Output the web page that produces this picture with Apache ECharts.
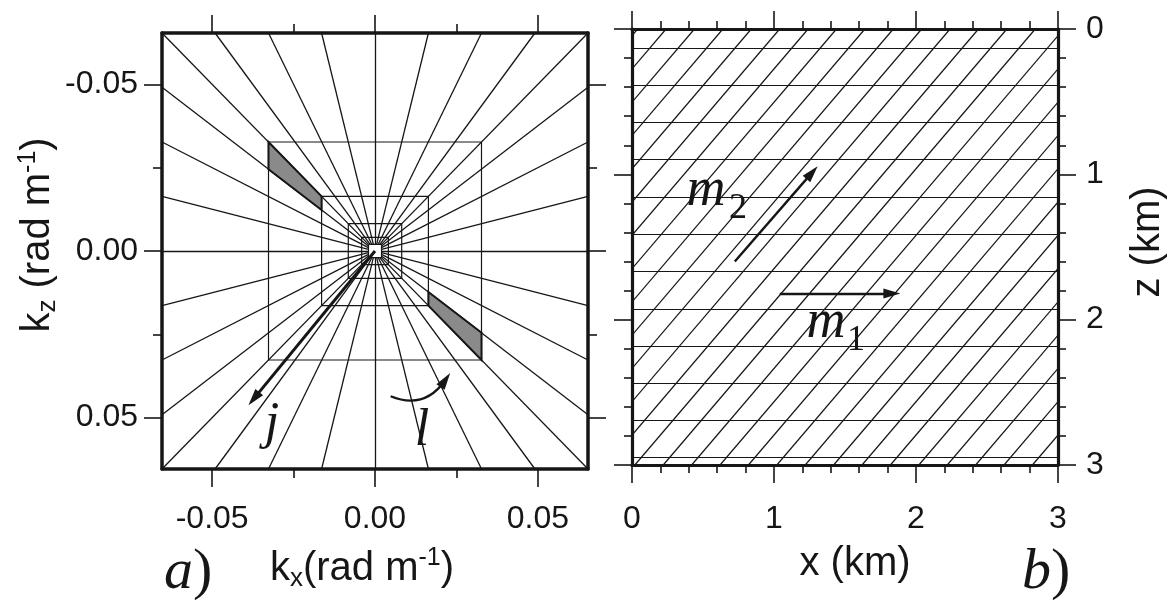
<!DOCTYPE html>
<html><head><meta charset="utf-8">
<script src="https://cdn.jsdelivr.net/npm/echarts@6/dist/echarts.min.js"></script>
<style>html,body{margin:0;padding:0;background:#fff}#c{width:1172px;height:603px}</style>
</head><body><div id="c"></div>
<script>
// ---------- Panel a: wavenumber domain ----------
const kMax = 0.0654;
const kTicksMajor = [-0.05, 0, 0.05];
const kTicksMinor = [-0.025, 0.025];
const rayEdgeValues = [-0.0654, -0.0491, -0.0327, -0.0164, 0, 0.0164, 0.0327, 0.0491, 0.0654];
const squareHalfSizes = [0.0327, 0.0164, 0.0082, 0.0041, 0.002];
const shadedPatches = [
  [[-0.0327, -0.0327], [-0.0164, -0.0164], [-0.0164, -0.0123], [-0.0327, -0.0245]],
  [[0.0164, 0.0123], [0.0327, 0.0245], [0.0327, 0.0327], [0.0164, 0.0164]]
];
const arrowJ = [[0, 0], [-0.0372, 0.0443]];
const arrowL = [[0.0048, 0.0436], [0.0216, 0.0387]];

// ---------- Panel b: space domain ----------
const xKmTicks = [0, 1, 2, 3];
const zKmTicks = [0, 1, 2, 3];
const horizontalLinesZ = [0.13, 0.386, 0.643, 0.899, 1.156, 1.412, 1.668, 1.925, 2.181, 2.438, 2.694, 2.95];
const diagonalTopX = [0.04, 0.24, 0.44, 0.64, 0.84, 1.04, 1.24, 1.44, 1.64, 1.84, 2.04, 2.24, 2.44, 2.64,
  2.84, 3.04, 3.24, 3.44, 3.64, 3.84, 4.04, 4.24, 4.44, 4.64, 4.84, 5.04, 5.24, 5.44];
const diagonalBottomX = [-2.58, -2.38, -2.18, -1.98, -1.78, -1.58, -1.38, -1.18, -0.98, -0.78, -0.58, -0.38, -0.18, 0.02,
  0.22, 0.42, 0.62, 0.82, 1.02, 1.22, 1.42, 1.62, 1.82, 2.02, 2.22, 2.42, 2.62, 2.82];
const arrowM1 = [[1.04, 1.82], [1.83, 1.82]];
const arrowM2 = [[0.724, 1.60], [1.268, 0.988]];

// ---------- build ----------
const INK = '#161616';
const SANS = '"Liberation Sans", Arial, sans-serif';
const SERIF = '"Liberation Serif", "DejaVu Serif", serif';

// rays run from the innermost square out to the frame
const innerH = squareHalfSizes[squareHalfSizes.length - 1];
const ray = (ex, ey) => {
  const f = innerH / Math.max(Math.abs(ex), Math.abs(ey));
  return {coords: [[ex * f, ey * f], [ex, ey]]};
};
const rayData = [];
rayEdgeValues.forEach(v => { rayData.push(ray(v, -kMax)); rayData.push(ray(v, kMax)); });
rayEdgeValues.slice(1, -1).forEach(v => { rayData.push(ray(-kMax, v)); rayData.push(ray(kMax, v)); });
const squareData = squareHalfSizes.map(h => ({coords: [[-h, -h], [h, -h], [h, h], [-h, h], [-h, -h]]}));
const hLineData = horizontalLinesZ.map(z => ({coords: [[xKmTicks[0], z], [xKmTicks[3], z]]}));
const dLineData = diagonalTopX.map((x, i) => ({coords: [[x, zKmTicks[0]], [diagonalBottomX[i], zKmTicks[3]]]}));

const baseLine = (w) => ({show: true, onZero: false, lineStyle: {color: INK, width: w}});
const noLabel = {show: false};
const noSplit = {show: false};
const labelStyle = {fontSize: 32, fontFamily: SANS, color: INK};

const richName = {
  a: {fontSize: 40, fontFamily: SANS, color: INK, lineHeight: 46},
  s: {fontSize: 26, fontFamily: SANS, color: INK, lineHeight: 26, verticalAlign: 'bottom'},
  p: {fontSize: 25, fontFamily: SANS, color: INK, lineHeight: 25, verticalAlign: 'top'}
};

function kAx(pos, major, labels, extra) {
  return Object.assign({
    type: 'value', gridIndex: 0, position: pos, min: -kMax, max: kMax,
    axisLine: major ? baseLine(3.5) : {show: false, onZero: false},
    axisTick: {show: true, customValues: major ? kTicksMajor : kTicksMinor, length: major ? 18 : 9,
      lineStyle: {color: INK, width: 1.6}},
    axisLabel: labels ? Object.assign({show: true, customValues: kTicksMajor, formatter: v => v.toFixed(2)}, labelStyle) : noLabel,
    splitLine: noSplit
  }, extra || {});
}
function kmAx(pos, labels, extra) {
  return Object.assign({
    type: 'value', gridIndex: 1, position: pos, min: 0, max: 3, interval: 1,
    axisLine: baseLine(3.2),
    axisTick: {show: true, length: 18, lineStyle: {color: INK, width: 1.6}},
    minorTick: {show: true, splitNumber: 5, length: 8, lineStyle: {color: INK, width: 1.6}},
    axisLabel: labels ? Object.assign({show: true}, labelStyle) : noLabel,
    splitLine: noSplit, minorSplitLine: noSplit
  }, extra || {});
}

const option = {
  backgroundColor: '#fff',
  animation: false,
  grid: [
    {left: 162, top: 33, width: 426, height: 436, outerBoundsMode: 'none'},
    {left: 632, top: 29, width: 426, height: 436, outerBoundsMode: 'none'}
  ],
  xAxis: [
    kAx('bottom', true, true, {
      axisLabel: Object.assign({show: true, customValues: kTicksMajor, formatter: v => v.toFixed(2), margin: 34}, labelStyle),
      name: '{a|k}{s|x}{a|(rad m}{p|-1}{a|)}', nameLocation: 'middle', nameGap: 77,
      nameTextStyle: {rich: richName, padding: [0, 26, 0, 0]}
    }),
    kAx('bottom', false, false),
    kAx('top', true, false),
    kAx('top', false, false),
    kmAx('bottom', true, {
      axisLabel: Object.assign({show: true, margin: 38}, labelStyle),
      name: 'x (km)', nameLocation: 'middle', nameGap: 79,
      nameTextStyle: {fontSize: 40, fontFamily: SANS, color: INK, padding: [0, 0, 0, 20]}
    }),
    kmAx('top', false)
  ],
  yAxis: [
    kAx('left', true, true, {
      inverse: true,
      axisLabel: Object.assign({show: true, customValues: kTicksMajor, formatter: v => v.toFixed(2), margin: 24}, labelStyle),
      name: '{a|k}{s|z}{a| (rad m}{p|-1}{a|)}', nameLocation: 'middle', nameGap: 98, nameRotate: 90,
      nameTextStyle: {rich: richName, padding: [0, 0, 0, 32]}
    }),
    kAx('left', false, false, {inverse: true}),
    kAx('right', true, false, {inverse: true}),
    kAx('right', false, false, {inverse: true}),
    kmAx('left', false, {inverse: true}),
    kmAx('right', true, {
      inverse: true,
      axisLabel: Object.assign({show: true, margin: 28}, labelStyle),
      name: 'z (km)', nameLocation: 'middle', nameGap: 70, nameRotate: 90,
      nameTextStyle: {fontSize: 40, fontFamily: SANS, color: INK, padding: [0, 0, 0, 10]}
    })
  ],
  series: [
    {type: 'lines', coordinateSystem: 'cartesian2d', xAxisIndex: 0, yAxisIndex: 0, silent: true,
      lineStyle: {color: INK, width: 1.3, opacity: 1}, data: rayData},
    {type: 'lines', coordinateSystem: 'cartesian2d', xAxisIndex: 0, yAxisIndex: 0, polyline: true, silent: true,
      lineStyle: {color: INK, width: 1.2, opacity: 1}, data: squareData},
    {type: 'custom', coordinateSystem: 'cartesian2d', xAxisIndex: 0, yAxisIndex: 0, silent: true,
      data: shadedPatches.map(p => [p[0][0], p[0][1]]),
      encode: {x: 0, y: 1},
      renderItem: (params, api) => ({
        type: 'polygon',
        shape: {points: shadedPatches[params.dataIndex].map(p => api.coord(p))},
        style: {fill: '#8a8a8a', stroke: INK, lineWidth: 2}
      })},
    {type: 'lines', coordinateSystem: 'cartesian2d', xAxisIndex: 0, yAxisIndex: 0, silent: true,
      symbol: ['none', 'triangle'], symbolSize: [1, [10, 17]],
      data: [
        {coords: arrowJ, lineStyle: {color: INK, width: 3, opacity: 1}},
        {coords: arrowL, lineStyle: {color: INK, width: 2.2, opacity: 1, curveness: -0.4}}
      ]},
    {type: 'lines', coordinateSystem: 'cartesian2d', xAxisIndex: 4, yAxisIndex: 4, silent: true, clip: true,
      lineStyle: {color: INK, width: 1.2, opacity: 1}, data: hLineData},
    {type: 'lines', coordinateSystem: 'cartesian2d', xAxisIndex: 4, yAxisIndex: 4, silent: true, clip: true,
      lineStyle: {color: INK, width: 1.2, opacity: 1}, data: dLineData},
    {type: 'lines', coordinateSystem: 'cartesian2d', xAxisIndex: 4, yAxisIndex: 4, silent: true,
      symbol: ['none', 'triangle'], symbolSize: [1, [10, 17]],
      lineStyle: {color: INK, width: 2.4, opacity: 1},
      data: [{coords: arrowM1}, {coords: arrowM2}]}
  ],
  graphic: [
    {type: 'text', x: 272, y: 424, style: {text: 'j', fontSize: 52, fontStyle: 'italic', fontFamily: SERIF, fill: INK, align: 'center', verticalAlign: 'middle'}},
    {type: 'text', x: 422, y: 431, style: {text: 'l', fontSize: 52, fontStyle: 'italic', fontFamily: SERIF, fill: INK, align: 'center', verticalAlign: 'middle'}},
    {type: 'text', x: 706, y: 191, style: {text: 'm', fontSize: 54, fontStyle: 'italic', fontFamily: SERIF, fill: INK, align: 'center', verticalAlign: 'middle'}},
    {type: 'text', x: 738, y: 209, style: {text: '2', fontSize: 36, fontFamily: SERIF, fill: INK, align: 'center', verticalAlign: 'middle'}},
    {type: 'text', x: 826, y: 323, style: {text: 'm', fontSize: 54, fontStyle: 'italic', fontFamily: SERIF, fill: INK, align: 'center', verticalAlign: 'middle'}},
    {type: 'text', x: 856, y: 341, style: {text: '1', fontSize: 36, fontFamily: SERIF, fill: INK, align: 'center', verticalAlign: 'middle'}},
    {type: 'text', x: 164, y: 573, style: {text: '{i|a}{r|)}', verticalAlign: 'middle',
      rich: {i: {fontSize: 58, fontStyle: 'italic', fontFamily: SERIF, fill: INK}, r: {fontSize: 58, fontFamily: SERIF, fill: INK}}}},
    {type: 'text', x: 1022, y: 573, style: {text: '{i|b}{r|)}', verticalAlign: 'middle',
      rich: {i: {fontSize: 58, fontStyle: 'italic', fontFamily: SERIF, fill: INK}, r: {fontSize: 58, fontFamily: SERIF, fill: INK}}}}
  ]
};
const chart = echarts.init(document.getElementById('c'), null, {renderer: 'canvas'});
chart.setOption(option);
</script></body></html>
